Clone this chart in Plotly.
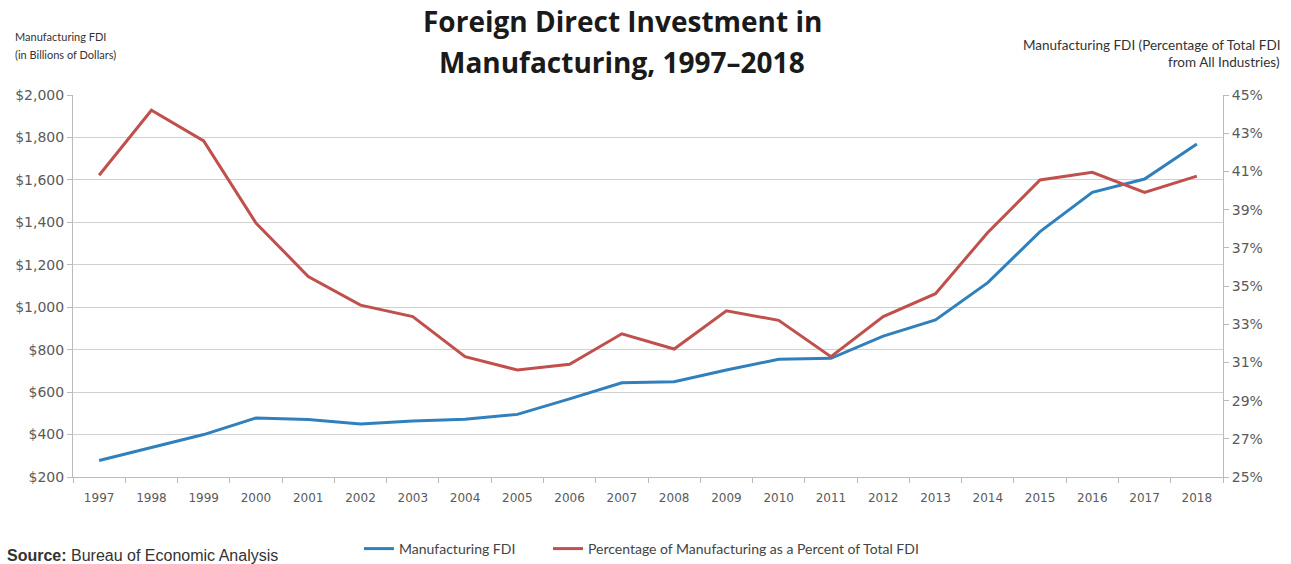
import plotly.graph_objects as go

years = [str(y) for y in range(1997, 2019)]
fdi_billions = [278, 340, 400, 478, 471, 450, 464, 472, 495, 568, 644, 649, 704, 755, 759,
                864, 940, 1116, 1356, 1541, 1604, 1769]
pct_of_total = [40.8, 44.2, 42.6, 38.3, 35.5, 34.0, 33.4, 31.3, 30.6, 30.9, 32.5, 31.7, 33.7,
                33.2, 31.3, 33.4, 34.6, 37.8, 40.55, 40.95, 39.9, 40.75]

left_ticks = list(range(200, 2001, 200))
left_labels = ["$" + format(v, ",") for v in left_ticks]
right_ticks = list(range(25, 46, 2))
right_labels = [f"{v}%" for v in right_ticks]

BLUE = "#2f80bd"
RED = "#c0504d"
GRID = "#d0d0d0"
TICKC = "#5a5a5a"

fig = go.Figure()
fig.add_trace(go.Scatter(x=years, y=fdi_billions, mode="lines", name="Manufacturing FDI",
                         line=dict(color=BLUE, width=3), yaxis="y", legend="legend"))
fig.add_trace(go.Scatter(x=years, y=pct_of_total, mode="lines",
                         name="Percentage of Manufacturing as a Percent of Total FDI",
                         line=dict(color=RED, width=3), yaxis="y2", legend="legend2"))

legend_common = dict(orientation="h", xref="container", xanchor="left",
                     y=1 - 549 / 564, yref="container", yanchor="middle",
                     font=dict(family="Lato", size=14, color="#444444"),
                     itemwidth=30, bgcolor="rgba(0,0,0,0)")

fig.update_layout(
    width=1291, height=564,
    margin=dict(l=73, r=68, t=95, b=87, autoexpand=False),
    paper_bgcolor="white", plot_bgcolor="white",
    font=dict(family="Lato", color=TICKC),
    showlegend=True,
    legend=dict(x=359 / 1291, **legend_common),
    legend2=dict(x=548 / 1291, **legend_common),
    xaxis=dict(type="category", tickson="boundaries", ticks="outside", ticklen=5,
               tickcolor="#bbbbbb", showline=True, linecolor="#bbbbbb", linewidth=1,
               showgrid=False, tickfont=dict(family="DejaVu Sans", size=12, color=TICKC),
               ticklabelstandoff=10, range=[-0.5, 21.5]),
    yaxis=dict(range=[200, 2000], tickvals=left_ticks, ticktext=left_labels,
               showgrid=True, gridcolor=GRID, gridwidth=1, zeroline=False,
               showline=True, linecolor="#bbbbbb", ticks="outside", ticklen=5,
               tickcolor="#bbbbbb",
               tickfont=dict(family="DejaVu Sans", size=14, color=TICKC)),
    yaxis2=dict(range=[25, 45], tickvals=right_ticks, ticktext=right_labels,
                overlaying="y", side="right", showgrid=False, zeroline=False,
                showline=True, linecolor="#bbbbbb", ticks="outside", ticklen=5,
                tickcolor="#bbbbbb",
                tickfont=dict(family="DejaVu Sans", size=14, color=TICKC)),
)

def cont_text(text, x, y, anchor, size, family, color="#333333"):
    fig.add_annotation(text=text, xref="paper", yref="paper",
                       x=(x - 73) / 1150, y=(477 - y) / 382,
                       xanchor=anchor, yanchor="middle", showarrow=False, align=anchor,
                       font=dict(family=family, size=size, color=color))

cont_text("<b>Foreign Direct Investment in</b>", 622, 21, "center", 28, "Open Sans", "#1a1a1a")
cont_text("<b>Manufacturing, 1997–2018</b>", 622, 62, "center", 28, "Open Sans", "#1a1a1a")
cont_text("Manufacturing FDI", 13, 37, "left", 11, "Lato")
cont_text("(in Billions of Dollars)", 13, 55, "left", 11, "Lato")
cont_text("Manufacturing FDI (Percentage of Total FDI", 1282, 45, "right", 13.5, "Lato")
cont_text("from All Industries)", 1282, 62, "right", 13.5, "Lato")
cont_text("<b>Source:</b> Bureau of Economic Analysis", 5, 555, "left", 16, "Liberation Sans")

fig.write_html("out.html")
